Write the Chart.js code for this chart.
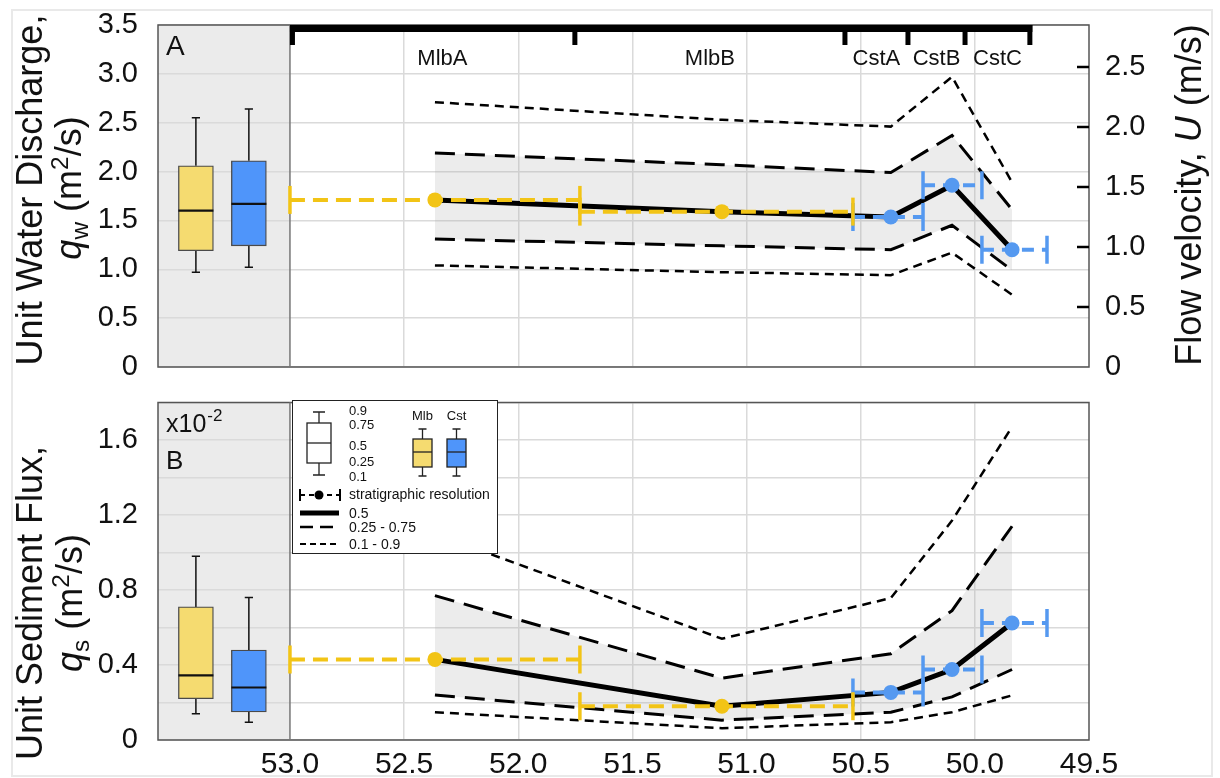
<!DOCTYPE html>
<html>
<head>
<meta charset="utf-8">
<script src="https://cdn.jsdelivr.net/npm/chart.js@4.4.1/dist/chart.umd.min.js"></script>
<style>
  html, body { margin: 0; padding: 0; background: #fff; }
  #wrap { position: relative; width: 1220px; height: 778px; overflow: hidden; }
  #frame { position: absolute; left: 11px; top: 9px; width: 1202px; height: 768px; border: 2px solid #e9e9e9; box-sizing: border-box; }
  #boxA { position: absolute; left: 0; top: 0; width: 1220px; height: 385px; }
  #boxB { position: absolute; left: 0; top: 385px; width: 1220px; height: 393px; }
</style>
</head>
<body>
<div id="wrap">
  <div id="frame"></div>
  <div id="boxA"><canvas id="chartA"></canvas></div>
  <div id="boxB"><canvas id="chartB"></canvas></div>
</div>
<script>
// ---- data ----
const xTicks = [53.0, 52.5, 52.0, 51.5, 51.0, 50.5, 50.0, 49.5];
const qwTicks = [0, 0.5, 1.0, 1.5, 2.0, 2.5, 3.0, 3.5];
const uTicks = [0, 0.5, 1.0, 1.5, 2.0, 2.5];
const qsGrid = [0, 0.2, 0.4, 0.6, 0.8, 1.0, 1.2, 1.4, 1.6, 1.8];
const qsLabels = [0, 0.4, 0.8, 1.2, 1.6];

// stations (position along the profile) and which set they belong to
const stationX = [52.365, 51.108, 50.368, 50.10, 49.837];
const stationSet = ['Mlb', 'Mlb', 'Cst', 'Cst', 'Cst'];
// stratigraphic resolution of each station
const resFrom = [53.0, 51.73, 50.534, 50.227, 49.969];
const resTo = [51.73, 50.534, 50.227, 49.969, 49.684];

// units along the top of panel A
const unitNames = ['MlbA', 'MlbB', 'CstA', 'CstB', 'CstC'];
const unitEdges = [53.0, 51.752, 50.569, 50.293, 50.043, 49.759];

// panel A: unit water discharge qw (m2/s), percentiles
const qwP10 = [1.04, 0.97, 0.94, 1.17, 0.74];
const qwP25 = [1.31, 1.24, 1.20, 1.45, 0.99];
const qwP50 = [1.71, 1.59, 1.535, 1.86, 1.20];
const qwP75 = [2.19, 2.07, 1.99, 2.37, 1.61];
const qwP90 = [2.71, 2.53, 2.46, 2.97, 1.89];

// panel B: unit sediment flux qs (x10^-2 m2/s), percentiles
const qsP10 = [0.148, 0.063, 0.095, 0.148, 0.238];
const qsP25 = [0.24, 0.106, 0.148, 0.23, 0.376];
const qsP50 = [0.43, 0.18, 0.254, 0.376, 0.624];
const qsP75 = [0.77, 0.33, 0.46, 0.69, 1.14];
const qsP90 = [1.10, 0.54, 0.757, 1.17, 1.67];

// box plots [0.1, 0.25, 0.5, 0.75, 0.9]
const boxX = [53.412, 53.18];
const qwBoxMlb = [0.97, 1.19, 1.60, 2.06, 2.55];
const qwBoxCst = [1.02, 1.24, 1.67, 2.11, 2.64];
const qsBoxMlb = [0.14, 0.22, 0.345, 0.71, 0.98];
const qsBoxCst = [0.095, 0.15, 0.28, 0.48, 0.76];

// ---- styling ----
const FONT = '"Liberation Sans", Arial, sans-serif';
const GRID = '#DADADA';
const YEL = '#F2C416';
const BLU = '#5599F0';
const YBOX = '#F5DB70';
const BBOX = '#4F95FA';
const halfBox = 0.0767;   // half box width in x units (35 px)
const capW = 0.018;

Chart.defaults.font.family = FONT;
Chart.defaults.color = '#111';

const fmt = v => (Math.abs(v) < 1e-9 ? '0' : Number(v).toFixed(1));
const pts = vals => stationX.map((x, i) => ({ x: x, y: vals[i] }));

function bandDatasets(p10, p25, p50, p75, p90) {
  return [
    { data: pts(p75), borderColor: '#000', borderWidth: 3, borderDash: [20, 10], pointRadius: 0,
      fill: '+1', backgroundColor: 'rgba(170,170,170,0.22)', order: 10 },
    { data: pts(p25), borderColor: '#000', borderWidth: 3, borderDash: [20, 10], pointRadius: 0, order: 9 },
    { data: pts(p90), borderColor: '#000', borderWidth: 2.5, borderDash: [9, 6], pointRadius: 0, order: 9 },
    { data: pts(p10), borderColor: '#000', borderWidth: 2.5, borderDash: [9, 6], pointRadius: 0, order: 9 },
    { data: pts(p50), borderColor: '#000', borderWidth: 5, pointRadius: 0, order: 5 }
  ];
}

function resDataset(set, p50, color, dash) {
  const data = [];
  stationX.forEach((x, i) => {
    if (stationSet[i] !== set) return;
    data.push({ x: resFrom[i], y: p50[i] }, { x: resTo[i], y: p50[i] }, { x: resTo[i], y: null });
  });
  return { data: data, borderColor: color, borderWidth: 4, borderDash: dash,
    pointStyle: 'line', pointRotation: 90, pointRadius: 14, pointBorderColor: color,
    pointBorderWidth: 3.5, order: 3 };
}

function dotDataset(p50) {
  return { data: pts(p50), showLine: false, pointRadius: 7.5, pointBorderWidth: 0,
    pointBackgroundColor: stationSet.map(s => (s === 'Mlb' ? YEL : BLU)), order: 1 };
}

function boxDatasets(mlb, cst) {
  const boxes = [mlb, cst];
  const whisk = [], med = [];
  boxes.forEach((b, i) => {
    const x = boxX[i];
    whisk.push({ x: x, y: b[0] }, { x: x, y: b[1] }, { x: x, y: null },
      { x: x, y: b[3] }, { x: x, y: b[4] }, { x: x, y: null },
      { x: x - capW, y: b[0] }, { x: x + capW, y: b[0] }, { x: x, y: null },
      { x: x - capW, y: b[4] }, { x: x + capW, y: b[4] }, { x: x, y: null });
    med.push({ x: x - halfBox, y: b[2] }, { x: x + halfBox, y: b[2] }, { x: x, y: null });
  });
  return [
    { type: 'bar', data: boxes.map((b, i) => ({ x: boxX[i], y: [b[1], b[3]] })),
      backgroundColor: [YBOX, BBOX], borderColor: '#4a4a4a', borderWidth: 1.3, borderSkipped: false,
      barThickness: 35, grouped: false, order: 7 },
    { data: whisk, borderColor: '#111', borderWidth: 1.5, pointRadius: 0, order: 8 },
    { data: med, borderColor: '#111', borderWidth: 2.2, pointRadius: 0, order: 6 }
  ];
}

function xScale(showLabels) {
  return {
    type: 'linear', reverse: true, min: 49.5, max: 53.578, offset: false,
    afterBuildTicks: s => { s.ticks = xTicks.map(v => ({ value: v })); },
    afterFit: s => { s.height = showLabels ? 38 : 18; },
    grid: { offset: false, drawTicks: false, lineWidth: 1.5,
      color: c => (c.tick && c.tick.value < 52.99 && c.tick.value > 49.51) ? GRID : 'rgba(0,0,0,0)' },
    border: { display: false },
    ticks: { display: showLabels, padding: 10, maxRotation: 0, autoSkip: false,
      font: { size: 30, lineHeight: 1 }, color: '#111', callback: v => Number(v).toFixed(1) }
  };
}

// y axis whose labels sit `gap` px away from the plot (gap made with an invisible tick mark)
function yScale(pos, min, max, tickVals, width, gap, callback) {
  return {
    type: 'linear', position: pos, min: min, max: max,
    afterBuildTicks: s => { s.ticks = tickVals.map(v => ({ value: v })); },
    afterFit: s => { s.width = width; },
    grid: { display: pos === 'left', color: GRID, lineWidth: 1.5, drawTicks: true, tickLength: gap,
      tickColor: 'rgba(0,0,0,0)' },
    border: { display: false },
    ticks: { padding: 0, font: { size: 29, lineHeight: 1 }, color: '#111', autoSkip: false, callback: callback }
  };
}

// text with italic / sub / sup pieces, optionally rotated, centred on (x, y)
function richText(ctx, x, y, parts, size, rot) {
  ctx.save();
  ctx.translate(x, y);
  if (rot) ctx.rotate(rot);
  const fontFor = p => {
    const s = (p[1] === 'sub' || p[1] === 'sup') ? size * 0.68 : size;
    return (p[1] === 'i' ? 'italic ' : '') + s + 'px ' + FONT;
  };
  let total = 0;
  parts.forEach(p => { ctx.font = fontFor(p); total += ctx.measureText(p[0]).width; });
  let cx = -total / 2;
  ctx.textAlign = 'left';
  ctx.textBaseline = 'alphabetic';
  ctx.fillStyle = '#111';
  parts.forEach(p => {
    ctx.font = fontFor(p);
    let dy = 0.36 * size;
    if (p[1] === 'sub') dy += 0.2 * size;
    if (p[1] === 'sup') dy -= 0.36 * size;
    ctx.fillText(p[0], cx, dy);
    cx += ctx.measureText(p[0]).width;
  });
  ctx.restore();
}

const panelFrame = {
  id: 'panelFrame',
  beforeDraw(chart) {
    const { ctx, chartArea: a, scales: { x } } = chart;
    const sep = x.getPixelForValue(53.0);
    ctx.save();
    ctx.fillStyle = '#fff';
    ctx.fillRect(a.left, a.top, a.width, a.height);
    ctx.fillStyle = '#EBEBEB';
    ctx.fillRect(a.left, a.top, sep - a.left, a.height);
    ctx.restore();
  },
  beforeDatasetsDraw(chart) {
    const { ctx, chartArea: a, scales: { x } } = chart;
    const sep = x.getPixelForValue(53.0);
    ctx.save();
    ctx.strokeStyle = '#555';
    ctx.lineWidth = 1.5;
    ctx.strokeRect(a.left, a.top, a.width, a.height);
    ctx.strokeStyle = '#777';
    ctx.beginPath(); ctx.moveTo(sep, a.top); ctx.lineTo(sep, a.bottom); ctx.stroke();
    ctx.restore();
  }
};

const decorA = {
  id: 'decorA',
  afterDraw(chart) {
    const { ctx, chartArea: a, scales: { x, y2 } } = chart;
    const xs = unitEdges.map(v => x.getPixelForValue(v));
    ctx.save();
    // unit bracket
    ctx.strokeStyle = '#000';
    ctx.lineWidth = 7;
    ctx.beginPath(); ctx.moveTo(xs[0], a.top + 3.5); ctx.lineTo(xs[xs.length - 1] + 2.5, a.top + 3.5); ctx.stroke();
    ctx.lineWidth = 5;
    xs.forEach((px, i) => {
      const off = i === 0 ? 2.5 : 0;
      ctx.beginPath(); ctx.moveTo(px + off, a.top); ctx.lineTo(px + off, a.top + 20); ctx.stroke();
    });
    ctx.font = '22px ' + FONT;
    ctx.fillStyle = '#111';
    ctx.textAlign = 'center';
    ctx.textBaseline = 'alphabetic';
    unitNames.forEach((n, i) => ctx.fillText(n, (xs[i] + xs[i + 1]) / 2 + (i === 0 ? 10 : 0), a.top + 40));
    // inward tick marks of the velocity axis
    ctx.lineWidth = 2.5;
    uTicks.forEach(v => {
      if (v === 0) return;
      const py = y2.getPixelForValue(v);
      ctx.beginPath(); ctx.moveTo(a.right - 12, py); ctx.lineTo(a.right, py); ctx.stroke();
    });
    // panel letter
    ctx.textAlign = 'left';
    ctx.font = '28px ' + FONT;
    ctx.fillText('A', 166, 55);
    ctx.restore();
    // axis titles
    richText(ctx, 29, 190, [['Unit Water Discharge,', '']], 36, -Math.PI / 2);
    richText(ctx, 68, 188, [['q', 'i'], ['w', 'sub'], [' (m', ''], ['2', 'sup'], ['/s)', '']], 36, -Math.PI / 2);
    richText(ctx, 1188, 195, [['Flow velocity, ', ''], ['U', 'i'], [' (m/s)', '']], 36, -Math.PI / 2);
  }
};

function miniBox(ctx, cx, w, ys, fill, cap) {
  ctx.strokeStyle = '#222';
  ctx.lineWidth = 1.3;
  ctx.beginPath();
  ctx.moveTo(cx, ys[0]); ctx.lineTo(cx, ys[1]);
  ctx.moveTo(cx, ys[3]); ctx.lineTo(cx, ys[4]);
  ctx.moveTo(cx - cap, ys[0]); ctx.lineTo(cx + cap, ys[0]);
  ctx.moveTo(cx - cap, ys[4]); ctx.lineTo(cx + cap, ys[4]);
  ctx.stroke();
  ctx.fillStyle = fill;
  ctx.fillRect(cx - w / 2, ys[3], w, ys[1] - ys[3]);
  ctx.strokeRect(cx - w / 2, ys[3], w, ys[1] - ys[3]);
  ctx.beginPath(); ctx.moveTo(cx - w / 2, ys[2]); ctx.lineTo(cx + w / 2, ys[2]); ctx.stroke();
}

const decorB = {
  id: 'decorB',
  afterDatasetsDraw(chart) {
    const ctx = chart.ctx;
    ctx.save();
    // legend
    ctx.fillStyle = '#fff';
    ctx.fillRect(292, 15, 205, 153);
    ctx.strokeStyle = '#222';
    ctx.lineWidth = 1;
    ctx.strokeRect(292.5, 15.5, 205, 153);
    miniBox(ctx, 319, 24, [90, 78, 58, 38, 27], '#fff', 6);
    miniBox(ctx, 422.5, 19, [91, 82, 67, 54, 44], YBOX, 4);
    miniBox(ctx, 456.5, 19, [91, 82, 67, 54, 44], BBOX, 4);
    ctx.fillStyle = '#111';
    ctx.font = '13px ' + FONT;
    ctx.textBaseline = 'middle';
    ctx.textAlign = 'left';
    [['0.9', 26], ['0.75', 40], ['0.5', 61], ['0.25', 77], ['0.1', 92]].forEach(t => ctx.fillText(t[0], 349, t[1]));
    ctx.textAlign = 'center';
    ctx.fillText('Mlb', 422.5, 31);
    ctx.fillText('Cst', 456.5, 31);
    // line keys
    ctx.strokeStyle = '#000';
    ctx.lineWidth = 2;
    ctx.beginPath(); ctx.moveTo(300, 104); ctx.lineTo(300, 116); ctx.moveTo(340, 104); ctx.lineTo(340, 116); ctx.stroke();
    ctx.setLineDash([5, 4]);
    ctx.beginPath(); ctx.moveTo(300, 110); ctx.lineTo(340, 110); ctx.stroke();
    ctx.setLineDash([]);
    ctx.fillStyle = '#000';
    ctx.beginPath(); ctx.arc(319, 110, 4.5, 0, Math.PI * 2); ctx.fill();
    ctx.lineWidth = 5;
    ctx.beginPath(); ctx.moveTo(300, 128); ctx.lineTo(339, 128); ctx.stroke();
    ctx.lineWidth = 2.5;
    ctx.setLineDash([13, 7]);
    ctx.beginPath(); ctx.moveTo(300, 142); ctx.lineTo(339, 142); ctx.stroke();
    ctx.lineWidth = 2;
    ctx.setLineDash([6, 4]);
    ctx.beginPath(); ctx.moveTo(300, 159); ctx.lineTo(339, 159); ctx.stroke();
    ctx.setLineDash([]);
    ctx.fillStyle = '#111';
    ctx.textAlign = 'left';
    ctx.font = '14px ' + FONT;
    ctx.fillText('stratigraphic resolution', 349, 110);
    ctx.fillText('0.5', 349, 129);
    ctx.fillText('0.25 - 0.75', 349, 143);
    ctx.fillText('0.1 - 0.9', 349, 160);
    // panel letter and multiplier
    ctx.textBaseline = 'alphabetic';
    ctx.font = '25px ' + FONT;
    ctx.fillText('x10', 166, 47);
    const w = ctx.measureText('x10').width;
    ctx.font = '17px ' + FONT;
    ctx.fillText('-2', 166 + w + 1, 36);
    ctx.font = '26px ' + FONT;
    ctx.fillText('B', 166, 84);
    ctx.restore();
    richText(ctx, 29, 218, [['Unit Sediment Flux,', '']], 36, -Math.PI / 2);
    richText(ctx, 69, 218, [['q', 'i'], ['s', 'sub'], [' (m', ''], ['2', 'sup'], ['/s)', '']], 36, -Math.PI / 2);
  }
};

const common = {
  responsive: true, maintainAspectRatio: false, animation: false, devicePixelRatio: 1, events: [],
  plugins: { legend: { display: false }, tooltip: { enabled: false } },
  elements: { line: { tension: 0 } }
};

new Chart(document.getElementById('chartA'), {
  type: 'line',
  data: {
    datasets: [
      ...bandDatasets(qwP10, qwP25, qwP50, qwP75, qwP90),
      ...boxDatasets(qwBoxMlb, qwBoxCst),
      resDataset('Mlb', qwP50, YEL, [15, 8]),
      resDataset('Cst', qwP50, BLU, [12, 8]),
      dotDataset(qwP50)
    ]
  },
  options: Object.assign({}, common, {
    layout: { padding: { top: 25, left: 0, right: 0, bottom: 0 } },
    scales: {
      x: xScale(false),
      y: yScale('left', 0, 3.5, qwTicks, 158, 20, fmt),
      y2: yScale('right', 0, 2.85, uTicks, 131, 16, fmt)
    }
  }),
  plugins: [panelFrame, decorA]
});

new Chart(document.getElementById('chartB'), {
  type: 'line',
  data: {
    datasets: [
      ...bandDatasets(qsP10, qsP25, qsP50, qsP75, qsP90),
      ...boxDatasets(qsBoxMlb, qsBoxCst),
      resDataset('Mlb', qsP50, YEL, [15, 8]),
      resDataset('Cst', qsP50, BLU, [12, 8]),
      dotDataset(qsP50)
    ]
  },
  options: Object.assign({}, common, {
    layout: { padding: { top: 15, left: 0, right: 131, bottom: 0 } },
    scales: {
      x: xScale(true),
      y: yScale('left', 0, 1.8, qsGrid, 158, 20,
        v => (qsLabels.some(l => Math.abs(l - v) < 1e-6) ? fmt(v) : ''))
    }
  }),
  plugins: [panelFrame, decorB]
});
</script>
</body>
</html>
